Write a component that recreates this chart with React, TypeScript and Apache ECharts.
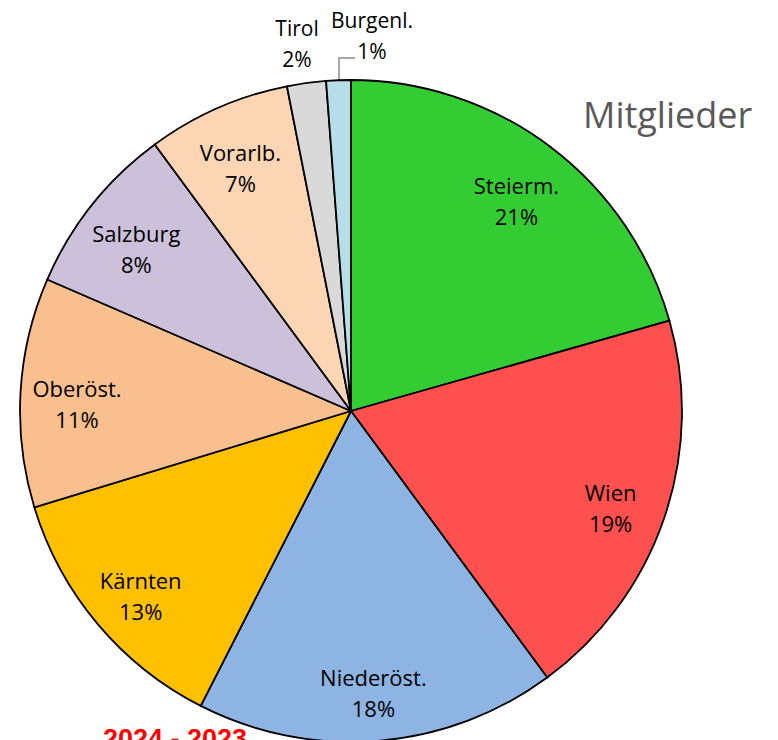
import React, { useEffect, useRef } from "react";
import * as echarts from "echarts";

const categories = ["Steierm.", "Wien", "Niederöst.", "Kärnten", "Oberöst.", "Salzburg", "Vorarlb.", "Tirol", "Burgenl."];
const values = [20.6, 19.3, 17.6, 12.8, 11.2, 8.4, 7.0, 1.9, 1.2];
const colors = ["#33CC33", "#FF5050", "#8EB4E3", "#FFC000", "#F9BF8F", "#CCC0DA", "#FCD5B5", "#D9D9D9", "#B7DEE8"];
const outsideLabels = ["Tirol", "Burgenl."];
const title = "Mitglieder";
const subtitle = "2024 - 2023";

const FONT = "'Open Sans', 'Noto Sans', sans-serif";

export default function App() {
  const ref = useRef<HTMLDivElement>(null);
  useEffect(() => {
    document.body.style.margin = "0";
    const chart = echarts.init(ref.current!, null, { renderer: "svg" });
    const cx = 351, cy = 411, R = 331;
    const fmt = (p: any) => `${p.name}\n${Math.round(p.percent)}%`;
    const mainData = categories.map((name, i) => {
      const outside = outsideLabels.includes(name);
      return {
        name,
        value: values[i],
        itemStyle: { color: colors[i] },
        label: { show: outside },
        labelLine: { show: name === "Burgenl." },
      };
    });
    const overlayData = categories.map((name, i) => ({
      name,
      value: values[i],
      label: { show: !outsideLabels.includes(name) },
    }));
    chart.setOption({
      animation: false,
      graphic: [
        {
          type: "text",
          left: 583,
          top: 96,
          style: { text: title, fill: "#595959", font: `36px ${FONT}` },
        },
        {
          type: "text",
          left: 103,
          top: 725,
          style: { text: subtitle, fill: "#FF0000", font: `bold 27px 'Liberation Sans', Arial, sans-serif` },
        },
      ],
      series: [
        {
          type: "pie",
          center: [cx, cy],
          radius: [0, R],
          startAngle: 90,
          clockwise: true,
          silent: true,
          avoidLabelOverlap: false,
          itemStyle: { borderColor: "#000", borderWidth: 1.8 },
          label: {
            position: "outside",
            formatter: fmt,
            color: "#000",
            fontFamily: FONT,
            fontSize: 21,
            lineHeight: 31,
            align: "center",
          },
          labelLine: { lineStyle: { color: "#A6A6A6", width: 2 }, length: 10, length2: 10 },
          labelLayout: (p: any) => {
            if (p.dataIndex === 7) {
              return { x: 297, y: 43, align: "center", verticalAlign: "middle" };
            }
            if (p.dataIndex === 8) {
              return {
                x: 372,
                y: 35,
                align: "center",
                verticalAlign: "middle",
                labelLinePoints: [[339, 82], [339, 58], [355, 58]],
              };
            }
            return {};
          },
          data: mainData,
        },
        {
          type: "pie",
          center: [cx, cy],
          radius: [R * 0.64, R],
          startAngle: 90,
          clockwise: true,
          silent: true,
          avoidLabelOverlap: false,
          itemStyle: { color: "rgba(0,0,0,0)", borderWidth: 0 },
          label: {
            position: "inside",
            formatter: fmt,
            color: "#000",
            fontFamily: FONT,
            fontSize: 22,
            lineHeight: 31,
            align: "center",
            offset: [0, 8],
          },
          labelLine: { show: false },
          data: overlayData,
        },
      ],
    });
    return () => chart.dispose();
  }, []);
  return <div ref={ref} style={{ width: 778, height: 740 }} />;
}
